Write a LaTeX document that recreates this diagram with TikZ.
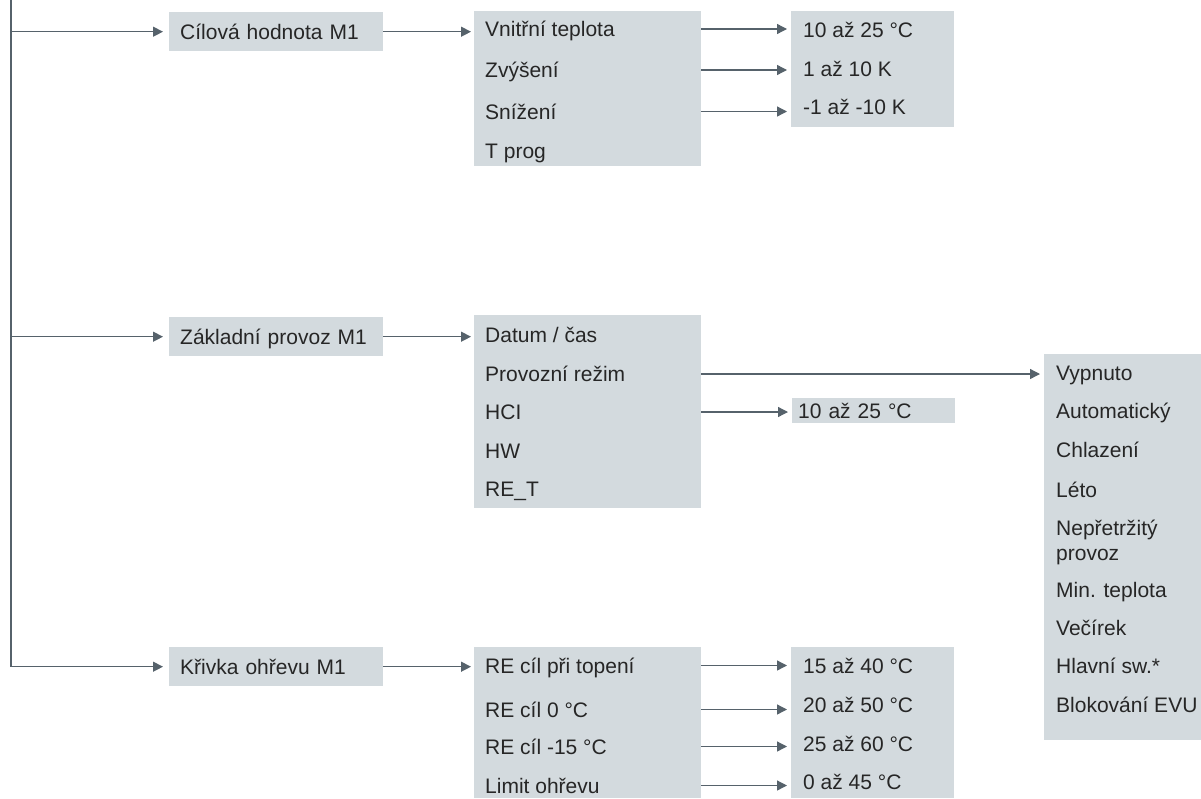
\documentclass[tikz,border=0pt]{standalone}
\usepackage{fontspec}
\setmainfont{Liberation Sans}
\usetikzlibrary{arrows.meta}
\definecolor{boxfill}{HTML}{D3DADE}
\definecolor{linecol}{HTML}{56626B}
\definecolor{txtcol}{HTML}{262626}
\tikzset{
    >={Triangle[length=10pt,width=10pt]},
    menu/.style={
        box/.append style={fill=boxfill,inner sep=0pt,anchor=north west},
        head/.append style={fill=boxfill,anchor=north west,inner xsep=11pt,inner ysep=0pt,text width=192pt,minimum height=39pt,align=left,text height=15pt,text depth=0pt,font=\fontsize{21}{25}\selectfont,text=txtcol},
        item/.append style={inner sep=0pt,anchor=west,text height=15pt,text depth=0pt,align=left,font=\fontsize{21}{25}\selectfont,text=txtcol},
        link/.append style={draw=linecol,line width=1.3pt,->,shorten >=4pt},
        trunk/.append style={draw=linecol,line width=1.3pt}
    }
}

\begin{document}
\begin{tikzpicture}[menu,x=1pt,y=-1pt]
    \useasboundingbox (0,0) rectangle (1201,798);
    \coordinate (top) at (11,0);

    % Cilova hodnota M1
    \node[head] (cil) at (169,12) {Cílová hodnota M1};
    \node[box,minimum width=227pt,minimum height=155pt] (cilm) at (474,11) {};
    \node[item] (vt) at (485,29) {Vnitřní teplota};
    \node[item] (zv) at (485,70) {Zvýšení};
    \node[item] (sn) at (485,111.5) {Snížení};
    \node[item] (tp) at (485,151) {T prog};
    \node[box,minimum width=163pt,minimum height=116pt] (cilv) at (791,11) {};
    \node[item] (vtv) at (803,30) {10 až 25 °C};
    \node[item] (zvv) at (803,69) {1 až 10 K};
    \node[item] (snv) at (803,107) {-1 až -10 K};

    % Zakladni provoz M1
    \node[head] (zak) at (169,317) {Základní provoz M1};
    \node[box,minimum width=227pt,minimum height=193pt] (zakm) at (474,315) {};
    \node[item] (dc) at (485,334.5) {Datum / čas};
    \node[item] (pr) at (485,374) {Provozní režim};
    \node[item] (hci) at (485,412) {HCI};
    \node[item] (hw) at (485,451) {HW};
    \node[item] (ret) at (485,489) {RE\_T};
    \node[head,text width=151pt,inner xsep=6pt,minimum height=25pt] (hciv) at (792,398) {10 až 25 °C};
    \node[box,minimum width=157pt,minimum height=386pt] (rez) at (1044,354) {};
    \node[item] (r1) at (1056,372.5) {Vypnuto};
    \node[item] (r2) at (1056,410.5) {Automatický};
    \node[item] (r3) at (1056,449.5) {Chlazení};
    \node[item] (r4) at (1056,489.5) {Léto};
    \node[item] (r5) at (1056,552.5) {Nepřetržitý\\provoz};
    \node[item] (r6) at (1056,590) {Min. teplota};
    \node[item] (r7) at (1056,627.5) {Večírek};
    \node[item] (r8) at (1056,665.5) {Hlavní sw.*};
    \node[item] (r9) at (1056,704.5) {Blokování EVU};

    % Krivka ohrevu M1
    \node[head] (kri) at (169,647) {Křivka ohřevu M1};
    \node[box,minimum width=227pt,minimum height=151pt] (krim) at (474,647) {};
    \node[item] (rt) at (485,665.5) {RE cíl při topení};
    \node[item] (r0) at (485,709.5) {RE cíl 0 °C};
    \node[item] (r15) at (485,746.5) {RE cíl -15 °C};
    \node[item] (lo) at (485,785.5) {Limit ohřevu};
    \node[box,minimum width=163pt,minimum height=151pt] (kriv) at (791,647) {};
    \node[item] (rtv) at (803,665.5) {15 až 40 °C};
    \node[item] (r0v) at (803,704.5) {20 až 50 °C};
    \node[item] (r15v) at (803,743.5) {25 až 60 °C};
    \node[item] (lov) at (803,782) {0 až 45 °C};

    % connectors
    \draw[link,shorten >=6pt] (top) |- (kri.west);
    \draw[link,shorten >=6pt] (top |- cil.west) -- (cil.west);
    \draw[link,shorten >=6pt] (top |- zak.west) -- (zak.west);
    \draw[link,shorten >=3pt] (cil.east) -- (cil.east -| cilm.west);
    \draw[link,shorten >=3pt] (zak.east) -- (zak.east -| zakm.west);
    \draw[link,shorten >=3pt] (kri.east) -- (kri.east -| krim.west);
    \draw[link] (cilm.east |- vt.west) -- (cilv.west |- vt.west);
    \draw[link] (cilm.east |- zv.west) -- (cilv.west |- zv.west);
    \draw[link] (cilm.east |- sn.west) -- (cilv.west |- sn.west);
    \draw[link] (zakm.east |- pr.west) -- (rez.west |- pr.west);
    \draw[link] (zakm.east |- hci.west) -- (hciv.west |- hci.west);
    \draw[link] (krim.east |- rt.west) -- (kriv.west |- rt.west);
    \draw[link] (krim.east |- r0.west) -- (kriv.west |- r0.west);
    \draw[link] (krim.east |- r15.west) -- (kriv.west |- r15.west);
    \draw[link] (krim.east |- lo.west) -- (kriv.west |- lo.west);
\end{tikzpicture}
\end{document}
